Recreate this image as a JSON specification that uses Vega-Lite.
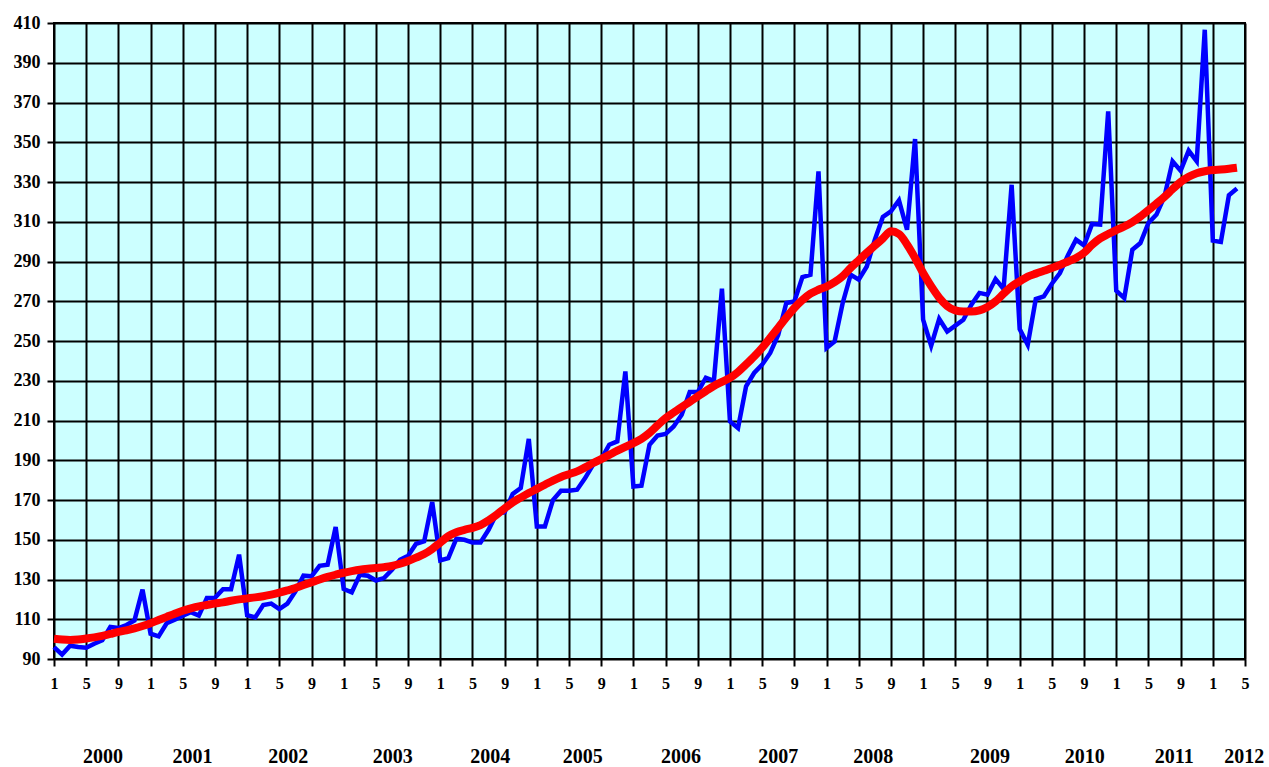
{
 "$schema": "https://vega.github.io/schema/vega-lite/v6.json",
 "width": 1191, "height": 636,
 "autosize": "none",
 "padding": {"left": 54, "top": 23, "right": 24, "bottom": 108},
 "background": "white",
 "config": {"view": {"fill": "#CCFFFF", "stroke": "black", "strokeWidth": 2}, "font": "Liberation Serif"},
 "datasets": {
  "series": [
   {"m":0,"a":96,"t":100.2},{"m":1,"a":92.2,"t":99.8},{"m":2,"a":96.7,"t":99.6},{"m":3,"a":96,"t":99.8},{"m":4,"a":95.7,"t":100.3},{"m":5,"a":97.7,"t":100.9},{"m":6,"a":99.4,"t":101.6},{"m":7,"a":106.1,"t":102.6},{"m":8,"a":105.6,"t":103.6},{"m":9,"a":107.1,"t":104.4},{"m":10,"a":109.4,"t":105.4},{"m":11,"a":124.9,"t":106.6},
   {"m":12,"a":102.7,"t":108.0},{"m":13,"a":101.4,"t":109.6},{"m":14,"a":108,"t":111.2},{"m":15,"a":109.8,"t":112.8},{"m":16,"a":111.8,"t":114.3},{"m":17,"a":113.5,"t":115.5},{"m":18,"a":111.8,"t":116.5},{"m":19,"a":120.7,"t":117.2},{"m":20,"a":120.8,"t":117.9},{"m":21,"a":125.1,"t":118.5},{"m":22,"a":125.1,"t":119.3},{"m":23,"a":142.5,"t":120.0},
   {"m":24,"a":112,"t":120.5},{"m":25,"a":110.9,"t":121.0},{"m":26,"a":117.1,"t":121.6},{"m":27,"a":117.9,"t":122.4},{"m":28,"a":115.1,"t":123.4},{"m":29,"a":117.9,"t":124.5},{"m":30,"a":124,"t":125.7},{"m":31,"a":131.9,"t":127.2},{"m":32,"a":131.6,"t":128.6},{"m":33,"a":136.9,"t":130.0},{"m":34,"a":137.4,"t":131.3},{"m":35,"a":156.4,"t":132.4},
   {"m":36,"a":125.2,"t":133.4},{"m":37,"a":123.5,"t":134.2},{"m":38,"a":132.4,"t":134.9},{"m":39,"a":131.9,"t":135.4},{"m":40,"a":129.5,"t":135.8},{"m":41,"a":130.7,"t":136.2},{"m":42,"a":134.9,"t":136.8},{"m":43,"a":139.9,"t":137.9},{"m":44,"a":141.9,"t":139.3},{"m":45,"a":148,"t":141.0},{"m":46,"a":149.2,"t":142.8},{"m":47,"a":169,"t":145.4},
   {"m":48,"a":139.6,"t":148.6},{"m":49,"a":140.8,"t":151.8},{"m":50,"a":150.5,"t":153.8},{"m":51,"a":150,"t":155.0},{"m":52,"a":148.6,"t":156.0},{"m":53,"a":148.6,"t":157.4},{"m":54,"a":155,"t":159.8},{"m":55,"a":163.1,"t":162.6},{"m":56,"a":163.8,"t":165.8},{"m":57,"a":173,"t":168.8},{"m":58,"a":176,"t":171.2},{"m":59,"a":200.7,"t":173.5},
   {"m":60,"a":156.7,"t":175.6},{"m":61,"a":156.7,"t":177.7},{"m":62,"a":170,"t":179.8},{"m":63,"a":174.7,"t":181.6},{"m":64,"a":174.7,"t":183.0},{"m":65,"a":175.2,"t":184.4},{"m":66,"a":181,"t":186.4},{"m":67,"a":187.8,"t":188.6},{"m":68,"a":190.6,"t":190.6},{"m":69,"a":197.8,"t":192.7},{"m":70,"a":199.5,"t":194.8},{"m":71,"a":234.7,"t":196.7},
   {"m":72,"a":176.8,"t":198.6},{"m":73,"a":177.2,"t":200.8},{"m":74,"a":197.8,"t":203.8},{"m":75,"a":202.4,"t":207.6},{"m":76,"a":203.2,"t":211.2},{"m":77,"a":207,"t":214.0},{"m":78,"a":212.9,"t":216.8},{"m":79,"a":224.3,"t":219.4},{"m":80,"a":224.3,"t":222.1},{"m":81,"a":231.5,"t":224.8},{"m":82,"a":229.9,"t":227.4},{"m":83,"a":276.3,"t":229.4},
   {"m":84,"a":209.5,"t":231.4},{"m":85,"a":206.2,"t":234.4},{"m":86,"a":227.2,"t":238.2},{"m":87,"a":233.9,"t":242.2},{"m":88,"a":238.1,"t":246.6},{"m":89,"a":244,"t":251.6},{"m":90,"a":253.2,"t":256.7},{"m":91,"a":269.1,"t":261.8},{"m":92,"a":269.9,"t":266.6},{"m":93,"a":282.2,"t":270.6},{"m":94,"a":283.3,"t":273.8},{"m":95,"a":335.3,"t":275.8},
   {"m":96,"a":246.5,"t":277.4},{"m":97,"a":249.8,"t":279.6},{"m":98,"a":269,"t":282.6},{"m":99,"a":283.4,"t":286.8},{"m":100,"a":280.9,"t":290.6},{"m":101,"a":287.5,"t":294.4},{"m":102,"a":301,"t":298.0},{"m":103,"a":312.4,"t":301.6},{"m":104,"a":315.2,"t":305.2},{"m":105,"a":320.8,"t":303.8},{"m":106,"a":306,"t":298.6},{"m":107,"a":351.6,"t":291.8},
   {"m":108,"a":260.7,"t":284.2},{"m":109,"a":247.6,"t":277.6},{"m":110,"a":261.1,"t":271.8},{"m":111,"a":254.8,"t":267.6},{"m":112,"a":257.7,"t":265.4},{"m":113,"a":260.7,"t":264.8},{"m":114,"a":268.3,"t":264.8},{"m":115,"a":274.2,"t":265.4},{"m":116,"a":273.3,"t":267.1},{"m":117,"a":281.2,"t":269.9},{"m":118,"a":276.2,"t":273.8},{"m":119,"a":328.6,"t":277.5},
   {"m":120,"a":256,"t":280.0},{"m":121,"a":248.1,"t":282.4},{"m":122,"a":271.1,"t":283.9},{"m":123,"a":272.4,"t":285.3},{"m":124,"a":278.8,"t":286.7},{"m":125,"a":284.2,"t":288.2},{"m":126,"a":293.1,"t":290.0},{"m":127,"a":301,"t":291.8},{"m":128,"a":298.1,"t":294.4},{"m":129,"a":308.9,"t":298.4},{"m":130,"a":308.6,"t":301.6},{"m":131,"a":365.5,"t":303.8},
   {"m":132,"a":275.3,"t":305.8},{"m":133,"a":271.6,"t":307.6},{"m":134,"a":295.9,"t":309.8},{"m":135,"a":299.3,"t":312.6},{"m":136,"a":309.4,"t":315.8},{"m":137,"a":313.6,"t":319.2},{"m":138,"a":322.8,"t":322.6},{"m":139,"a":340.4,"t":326.4},{"m":140,"a":335.7,"t":330.0},{"m":141,"a":345.8,"t":332.6},{"m":142,"a":340.4,"t":334.4},{"m":143,"a":406.6,"t":335.4},
   {"m":144,"a":300.5,"t":336.0},{"m":145,"a":299.8,"t":336.3},{"m":146,"a":323.3,"t":336.7},{"m":147,"a":326.7,"t":337.2}
  ],
  "years": [
   {"year":"2000","m":6.1},{"year":"2001","m":17.2},{"year":"2002","m":29.1},{"year":"2003","m":42.1},{"year":"2004","m":54.2},{"year":"2005","m":65.7},{"year":"2006","m":77.9},{"year":"2007","m":90.0},{"year":"2008","m":101.8},{"year":"2009","m":116.3},{"year":"2010","m":128.1},{"year":"2011","m":139.2},{"year":"2012","m":147.9}
  ]
 },
 "layer": [
  {
   "data": {"name": "series"},
   "mark": {"type": "line", "color": "#0000FF", "strokeWidth": 4.5, "strokeJoin": "miter"},
   "encoding": {
    "x": {"field": "m", "type": "quantitative",
      "scale": {"domain": [0, 148], "nice": false, "zero": false},
      "axis": {"title": null, "values": [0,4,8,12,16,20,24,28,32,36,40,44,48,52,56,60,64,68,72,76,80,84,88,92,96,100,104,108,112,116,120,124,128,132,136,140,144,148],
        "tickCount": 500,
        "labelExpr": "(datum.value % 12) + 1", "grid": true, "gridColor": "black", "gridWidth": 2, "gridOpacity": 1,
        "domain": false, "tickColor": "black", "tickWidth": 2, "tickSize": 7,
        "labelFont": "Liberation Serif", "labelFontWeight": "bold", "labelFontSize": 16, "labelColor": "black", "labelPadding": 9, "labelFlush": false, "labelOverlap": false}},
    "y": {"field": "a", "type": "quantitative",
      "scale": {"domain": [90, 410], "nice": false, "zero": false},
      "axis": {"title": null, "values": [90,110,130,150,170,190,210,230,250,270,290,310,330,350,370,390,410],
        "tickCount": 500, "format": "d",
        "grid": true, "gridColor": "black", "gridWidth": 2, "gridOpacity": 1,
        "domain": false, "tickColor": "black", "tickWidth": 2, "tickSize": 7,
        "labelFont": "Liberation Serif", "labelFontWeight": "bold", "labelFontSize": 18, "labelColor": "black", "labelPadding": 7, "labelFlush": false, "labelOverlap": false}}
   }
  },
  {
   "data": {"name": "series"},
   "mark": {"type": "line", "color": "#FF0000", "strokeWidth": 8, "interpolate": "monotone"},
   "encoding": {
    "x": {"field": "m", "type": "quantitative"},
    "y": {"field": "t", "type": "quantitative"}
   }
  },
  {
   "data": {"name": "years"},
   "mark": {"type": "text", "font": "Liberation Serif", "fontWeight": "bold", "fontSize": 20, "color": "black", "baseline": "middle", "align": "center"},
   "encoding": {
    "x": {"field": "m", "type": "quantitative"},
    "y": {"datum": 40.8},
    "text": {"field": "year"}
   }
  }
 ]
}
